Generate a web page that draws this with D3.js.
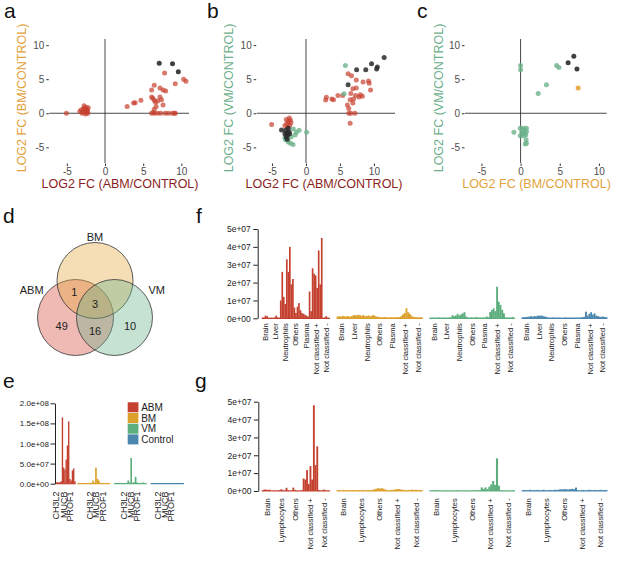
<!DOCTYPE html>
<html>
<head>
<meta charset="utf-8">
<script src="https://cdn.jsdelivr.net/npm/d3@7"></script>
<style>
  body { margin: 0; background: #fff; }
  svg { display: block; font-family: "Liberation Sans", Arial, sans-serif; }
</style>
</head>
<body>
<script>
// ---------- data ----------
// scatter points: [log2FC x, log2FC y]
var aRed = [[-5.06,0],[-3.3,0.3],[-3.1,0.5],[-2.9,0.2],[-2.8,0.7],[-2.75,1.1],[-2.6,0.4],[-2.5,0.9],[-2.45,0.1],
  [-2.35,0.6],[-2.3,0.3],[-2.2,0.8],[-2.55,-0.1],[-2.25,0.0],[-2.65,0.55],[-2.4,0.45],[-3.0,0.0],
  [2.9,1.0],[3.75,1.5],[3.95,1.55],[4.7,1.9],[6.1,3.4],[6.45,4.1],[6.1,2.4],[6.25,2.2],[6.45,1.9],[6.6,1.6],
  [6.45,0.6],[6.7,1.0],[7.2,3.7],[7.6,3.4],[7.95,3.25],[7.8,5.9],[7.2,2.4],[7.4,2.0],[6.9,1.8],[10.3,5.0],
  [10.6,4.7],[9.2,4.35],[6.1,0],[6.5,0],[6.9,0],[7.3,0],[7.9,0],[8.3,0],[8.8,0],[9.1,0],[9.2,0],[6.3,0.1],[7.6,1.2]];
var aBlack = [[7.1,7.35],[8.84,7.26],[9.6,6.1]];

var bRed = [[6.2,5.8],[6.7,5.5],[7.4,4.9],[8.4,4.6],[9.2,4.75],[9.3,4.4],[9.5,3.4],[6.9,3.6],[7.4,3.7],[6.6,2.9],
  [7.3,2.6],[7.8,2.4],[8.3,2.5],[6.5,2.0],[7.0,2.1],[6.1,1.2],[6.3,0.7],[6.6,0],[6.3,0],[7.2,0],[6.5,-1.47],
  [3.0,2.35],[2.9,1.95],[3.8,2.1],[4.05,2.0],[4.7,2.6],[5.4,2.6],[8.0,2.7],[6.9,1.5],
  [-5.05,-1.66],[-2.45,-0.7],[-2.9,-0.9],[-2.6,-1.2],[-2.3,-1.0],[-2.8,-1.5],[-2.4,-1.8],[-2.2,-1.4],[-2.7,-2.0],[-3.1,-1.8]];
var bGreen = [[5.8,7.0],[5.6,2.85],[-1.86,-2.3],[-1.4,-2.8],[-1.0,-2.5],[-1.6,-3.2],[0.1,-2.8],[-3.0,-3.9],
  [-2.6,-4.2],[-2.3,-4.4],[-1.9,-4.6],[-3.1,-3.6],[-2.2,-3.5]];
var bBlack = [[11.5,8.2],[9.65,7.26],[10.5,6.8],[10.4,6.5],[8.8,6.4],[7.45,6.4],[6.2,4.2],
  [-3.6,-2.45],[-3.0,-2.5],[-2.8,-2.9],[-2.7,-3.2],[-2.9,-3.5],[-2.6,-2.2],[-2.5,-2.7],[-2.75,-3.8],[-2.4,-3.0],[-3.1,-3.0]];

var cGreen = [[0,7.0],[0,6.4],[4.6,7.0],[4.9,6.7],[3.3,4.2],[2.25,2.9],[-0.85,-2.8],[-0.05,-2.2],[0.35,-2.2],
  [0.55,-2.4],[0.75,-2.2],[0.15,-2.8],[0.35,-3.0],[0.55,-2.9],[0.75,-2.7],[-0.05,-3.3],[0.35,-3.3],[0.7,-3.9],
  [0.75,-4.4],[0.6,-4.5],[0.65,-3.2],[0.2,-2.5]];
var cOrange = [[7.35,3.7]];
var cBlack = [[6.8,8.35],[6.07,7.4],[7.2,6.5]];

var scatterTicks = [-5, 0, 5, 10];

// venn counts
var vennSets = ["ABM", "BM", "VM"];
var vennRegions = [
  { sets: ["ABM"], count: 49 },
  { sets: ["BM"], count: 0 },
  { sets: ["VM"], count: 10 },
  { sets: ["ABM", "BM"], count: 1 },
  { sets: ["ABM", "VM"], count: 16 },
  { sets: ["BM", "VM"], count: 0 },
  { sets: ["ABM", "BM", "VM"], count: 3 }
];

// panel e: intensities (1e6) per protein, per group
var groups = ["ABM", "BM", "VM", "Control"];
var eABM  = [3,4,3,4,6,165,40,35,60,95,155,12,8,33,38,6];
var eBM   = [1,1,1,1,1.5,1,1,1,1,2,8,3,40,12,8,2,1,1.5,1,1,1,1];
var eVM   = [1,1,1.5,1,2,1,1,1.5,2,8,3,64,2,4,17,3,2,1,2,3,1,1];
var eCtrl = [1,0.5,1,0.8,1,0.5,0.7,1,1.2,0.8,1,0.6,0.9,1,0.8,0.6,1,2,0.8,0.7,1,0.6];
var eLabels = ["CH3L2", "MUCB", "PROF1"];
var eLabelIdx = [[0,6,11],[8,12,17],[6,11,15],[4,9,13]];
var eTicks = [0, 5e7, 1e8, 1.5e8, 2e8];

// panel f: intensities (1e6) along origin categories
var fCats = ["Brain", "Liver", "Neutrophils", "Others", "Plasma", "Not classified +", "Not classified -"];
var fABM = [0.3,0.5,1.5,1.2,0.3,0.2,0.3,0.2,0.5,1.5,0.5,0.3,10,26,12,8,33,26,40,19,22,6,3,6.5,8.5,4.5,3,2.5,2,1.5,
  1,15,4,28,25,24,17,38,19,45,0.2,0.5,1.2,0.3,0.2];
var fBM = [1.0,1.2,0.9,1.4,1.1,1.0,1.3,0.8,1.2,1.5,1.9,1.6,2.0,1.7,1.4,1.8,1.2,1.3,1.6,1.1,1.5,1.8,1.2,0.9,0.7,0.6,
  0.5,0.7,0.6,0.5,0.4,0.6,0.5,0.6,0.5,0.7,0.6,1.2,2.2,3.0,5.6,3.4,2.5,1.4,0.8,0.6,0.5,0.6,0.4,0.5];
var fVM = [0.3,0.3,0.4,0.3,0.3,0.5,0.3,0.3,0.4,0.3,0.3,0.4,0.5,1.8,1.2,1.5,2.5,1.6,2.2,2.8,3.4,1.0,0.4,0.3,0.5,0.3,
  0.4,0.8,0.3,0.4,0.3,0.5,0.4,1.0,0.6,3.5,4.7,5.6,4.0,17.7,9.3,7.5,4.7,2.8,0.5,0.3,0.4,0.3,0.8,0.3];
var fCtrl = [0.6,0.6,0.7,0.8,1.0,1.2,0.9,1.3,1.1,1.5,1.4,1.6,1.2,1.0,0.8,0.4,0.3,0.3,0.5,0.3,0.3,0.4,0.3,0.3,0.3,
  0.5,0.3,0.3,0.4,0.3,0.3,0.3,0.4,0.3,0.5,0.6,0.8,3.7,1.5,2.5,3.4,2.0,2.8,1.5,1.2,0.9,0.8,1.0,0.7,0.6];

// panel g
var gCats = ["Brain", "Lymphocytes", "Others", "Not classified +", "Not classified -"];
var gABM = [0.3,0.8,0.8,0.5,0.8,0.2,0.2,0.3,0.2,0.3,0.5,1.0,0.4,0.3,1.8,0.5,0.2,0.3,1.9,0.6,
  0.2,0.3,0.2,0.4,7.0,6.4,11.7,4.0,13.9,6.4,48,14.5,25,0.5,0.3,0.4,0.8,0.3,0.2,0.2];
var gBM = [0.4,0.5,0.3,0.6,0.4,0.5,0.3,0.4,0.5,0.4,0.3,0.5,0.4,0.6,0.3,0.4,0.5,0.3,0.6,0.8,
  1.2,1.5,1.4,1.6,1.3,0.8,0.5,0.4,0.6,0.5,0.9,1.0,1.1,0.9,0.7,0.5,0.4,0.6,0.5,0.8,0.6,0.7,0.5,0.6,0.4];
var gVM = [0.3,0.2,0.3,0.4,0.3,0.3,0.2,0.3,0.4,0.3,0.3,0.2,0.3,0.3,0.4,0.3,0.2,0.3,0.3,0.4,0.3,0.2,0.3,0.3,0.4,0.3,0.5,
  2.0,1.2,2.0,1.1,2.4,3.7,5.6,3.4,18.3,3.0,0.4,0.3,0.3,0.2,0.3,0.3,0.4,0.3];
var gCtrl = [0.4,0.6,0.3,0.5,0.7,0.3,0.5,0.4,0.6,0.3,0.5,0.7,0.4,0.3,0.6,0.5,0.4,0.7,0.5,
  0.8,1.0,0.9,1.1,1.0,0.8,1.1,1.2,1.0,1.9,0.4,0.3,0.5,0.6,0.3,0.4,0.7,0.5,0.3,0.6,0.4,0.5,0.7,0.4,0.5,0.6];
var fgTicks = [0, 1e7, 2e7, 3e7, 4e7, 5e7];

// ---------- style ----------
var colRed = "#C5412F", colOrange = "#DDA02A", colGreen = "#5DAE7D", colBlue = "#4A86AE";
var groupColor = d3.scaleOrdinal().domain(groups).range([colRed, colOrange, colGreen, colBlue]);
var font = "Liberation Sans, Arial, sans-serif";

var width = 617, height = 562;
var svg = d3.select("body").append("svg")
  .attr("width", width)
  .attr("height", height);

// R style exponent labels: 5e+07, 2.0e+08
function rExp(digits) {
  return function (v) {
    return v.toExponential(digits).replace(/e([+-])(\d)$/, "e$10$2");
  };
}

// ---------- scatter panels ----------
function scatter(opt) {
  var x = d3.scaleLinear().domain(opt.xDomain).range(opt.xRange);
  var y = d3.scaleLinear().domain([-7.3, 10.9]).range([163, 39]);
  var g = svg.append("g");

  g.append("line")
    .attr("x1", opt.xRange[0]).attr("x2", opt.xRange[1])
    .attr("y1", y(0)).attr("y2", y(0))
    .attr("stroke", "#333").attr("stroke-width", 0.9);
  g.append("line")
    .attr("x1", x(0)).attr("x2", x(0))
    .attr("y1", y.range()[0]).attr("y2", y.range()[1])
    .attr("stroke", "#333").attr("stroke-width", 0.9);

  opt.series.forEach(function (s) {
    g.append("g").selectAll("circle")
      .data(s.pts)
      .join("circle")
      .attr("cx", d => x(d[0]))
      .attr("cy", d => y(d[1]))
      .attr("r", 2.5)
      .attr("fill", s.color)
      .attr("fill-opacity", s.alpha);
  });

  var yAx = g.append("g")
    .attr("transform", "translate(" + (opt.xRange[0] - 0.5) + ",0)")
    .call(d3.axisLeft(y).tickValues(scatterTicks).tickFormat(d => String(d)).tickSize(2.5).tickPadding(2));
  var xAx = g.append("g")
    .attr("transform", "translate(0," + (y.range()[0] + 0.5) + ")")
    .call(d3.axisBottom(x).tickValues(scatterTicks).tickFormat(d => String(d)).tickSize(2.5).tickPadding(1.5));
  [yAx, xAx].forEach(function (ax) {
    ax.select(".domain").remove();
    ax.selectAll("line").attr("stroke", "#333");
    ax.selectAll("text").attr("fill", "#4D4D4D").attr("font-size", 10).attr("font-family", font);
  });

  g.append("text")
    .attr("x", opt.xTitleX).attr("y", 187.5)
    .attr("text-anchor", "middle")
    .attr("font-size", 12.5).attr("font-family", font)
    .attr("fill", opt.xTitleColor)
    .text(opt.xTitle);
  g.append("text")
    .attr("transform", "translate(" + opt.yTitleX + ",98) rotate(-90)")
    .attr("text-anchor", "middle")
    .attr("dy", "0.35em")
    .attr("font-size", 12.5).attr("font-family", font)
    .attr("fill", opt.yTitleColor)
    .text(opt.yTitle);
}

var ptRed = "#C8402F", ptGreen = "#6DB38B", ptBlack = "#2A2A2A", ptOrange = "#E5A33A";
var titleRed = "#8B1E22", titleOrange = "#E3A23B", titleGreen = "#6DAF8C";

scatter({
  xDomain: [-7.3, 11.0], xRange: [49.3, 189],
  series: [{ pts: aRed, color: ptRed, alpha: 0.7 }, { pts: aBlack, color: ptBlack, alpha: 0.9 }],
  xTitle: "LOG2 FC (ABM/CONTROL)", xTitleColor: titleRed, xTitleX: 120,
  yTitle: "LOG2 FC (BM/CONTROL)", yTitleColor: titleOrange, yTitleX: 21.7
});
scatter({
  xDomain: [-7.25, 13.1], xRange: [256.7, 395],
  series: [{ pts: bRed, color: ptRed, alpha: 0.7 }, { pts: bGreen, color: ptGreen, alpha: 0.8 },
           { pts: bBlack, color: ptBlack, alpha: 0.85 }],
  xTitle: "LOG2 FC (ABM/CONTROL)", xTitleColor: titleRed, xTitleX: 324,
  yTitle: "LOG2 FC (VM/CONTROL)", yTitleColor: titleGreen, yTitleX: 228.3
});
scatter({
  xDomain: [-7.1, 11.0], xRange: [465, 606.7],
  series: [{ pts: cGreen, color: ptGreen, alpha: 0.8 }, { pts: cOrange, color: ptOrange, alpha: 0.9 },
           { pts: cBlack, color: ptBlack, alpha: 0.9 }],
  xTitle: "LOG2 FC (BM/CONTROL)", xTitleColor: titleOrange, xTitleX: 536.5,
  yTitle: "LOG2 FC (VM/CONTROL)", yTitleColor: titleGreen, yTitleX: 438.3
});

// ---------- venn (panel d) ----------
var vennLayout = {
  ABM: { cx: 75.5, cy: 317.5, color: "#D4473A", lx: 31.7, ly: 290 },
  BM:  { cx: 95,   cy: 280.5, color: "#E6A93C", lx: 95,   ly: 236.7 },
  VM:  { cx: 114.5, cy: 317.5, color: "#6AB38A", lx: 156.7, ly: 290 }
};
var vennR = 38;
var vg = svg.append("g");
vg.selectAll("circle")
  .data(vennSets)
  .join("circle")
  .attr("cx", d => vennLayout[d].cx)
  .attr("cy", d => vennLayout[d].cy)
  .attr("r", vennR)
  .attr("fill", d => vennLayout[d].color)
  .attr("fill-opacity", 0.38)
  .attr("stroke", "#333")
  .attr("stroke-width", 0.8);
vg.selectAll("text.set")
  .data(vennSets)
  .join("text")
  .attr("class", "set")
  .attr("x", d => vennLayout[d].lx)
  .attr("y", d => vennLayout[d].ly)
  .attr("dy", "0.35em")
  .attr("text-anchor", "middle")
  .attr("font-size", 11).attr("font-family", font).attr("fill", "#222")
  .text(d => d);

// place region labels relative to circle centres
function regionPos(sets) {
  var key = sets.join("&");
  var A = vennLayout.ABM, B = vennLayout.BM, V = vennLayout.VM;
  if (key === "ABM") return [A.cx - 13.8, A.cy + 8.8];
  if (key === "BM") return [B.cx, B.cy - 18];
  if (key === "VM") return [V.cx + 15.5, V.cy + 8.8];
  if (key === "ABM&BM") return [(A.cx + B.cx) / 2 - 11, (A.cy + B.cy) / 2 - 7.3];
  if (key === "ABM&VM") return [(A.cx + V.cx) / 2, A.cy + 13.5];
  if (key === "BM&VM") return [(B.cx + V.cx) / 2 + 11, (B.cy + V.cy) / 2 - 7.3];
  return [B.cx, (A.cy + B.cy + V.cy) / 3 - 1.5];
}
vg.selectAll("text.count")
  .data(vennRegions.filter(d => d.count > 0))
  .join("text")
  .attr("class", "count")
  .attr("x", d => regionPos(d.sets)[0])
  .attr("y", d => regionPos(d.sets)[1])
  .attr("dy", "0.35em")
  .attr("text-anchor", "middle")
  .attr("font-size", 11).attr("font-family", font).attr("fill", "#222")
  .text(d => d.count);

// ---------- bar panels (e, f, g) ----------
function barPanel(opt) {
  var y = d3.scaleLinear().domain([0, opt.yMax]).range([opt.y0, opt.yTop]);
  var g = svg.append("g");

  opt.facets.forEach(function (f, k) {
    var x = d3.scaleBand().domain(d3.range(f.values.length)).range(f.range).padding(0);
    var color = groupColor(groups[k]);
    g.append("line")
      .attr("x1", f.range[0]).attr("x2", f.range[1])
      .attr("y1", opt.y0).attr("y2", opt.y0)
      .attr("stroke", color).attr("stroke-width", 1.2);
    g.append("g").selectAll("rect")
      .data(f.values)
      .join("rect")
      .attr("x", (d, i) => x(i))
      .attr("width", x.bandwidth() + 0.15)
      .attr("y", d => y(d * 1e6))
      .attr("height", d => opt.y0 - y(d * 1e6))
      .attr("fill", color);

    var labels;
    if (opt.categories) {
      var p = d3.scalePoint().domain(opt.categories).range(f.range).padding(0.37);
      labels = opt.categories.map(c => ({ text: c, x: p(c) }));
    } else {
      labels = opt.labelNames.map((c, j) => ({ text: c, x: x(opt.labelIdx[k][j]) + x.bandwidth() / 2 }));
    }
    g.append("g").selectAll("text")
      .data(labels)
      .join("text")
      .attr("transform", d => "translate(" + d.x + "," + opt.labelTop + ") rotate(-90)")
      .attr("text-anchor", "end")
      .attr("dy", "0.35em")
      .attr("font-size", opt.labelSize).attr("font-family", font).attr("fill", "#222")
      .text(d => d.text);
  });

  var ax = g.append("g")
    .attr("transform", "translate(" + opt.axisX + ",0)")
    .call(d3.axisLeft(y).tickValues(opt.ticks).tickFormat(opt.fmt).tickSize(opt.tickSize).tickSizeOuter(0).tickPadding(opt.tickPad));
  ax.select(".domain").attr("stroke", "#222");
  ax.selectAll("line").attr("stroke", "#222");
  ax.selectAll("text").attr("fill", "#222").attr("font-size", opt.tickFont).attr("font-family", font);
}

// panel e
barPanel({
  yMax: 2e8, y0: 483.7, yTop: 403.3, axisX: 55, ticks: eTicks, fmt: rExp(1),
  tickSize: 4.5, tickPad: 1.5, tickFont: 8,
  facets: [
    { values: eABM, range: [55.5, 75.5] },
    { values: eBM, range: [77.3, 110] },
    { values: eVM, range: [114, 146.7] },
    { values: eCtrl, range: [150.7, 184] }
  ],
  labelNames: eLabels, labelIdx: eLabelIdx, labelTop: 491.5, labelSize: 9
});

// legend of panel e
var leg = svg.append("g").attr("transform", "translate(127.7,402.3)");
leg.selectAll("rect")
  .data(groups)
  .join("rect")
  .attr("x", 0).attr("y", (d, i) => i * 10.7)
  .attr("width", 10.7).attr("height", 10)
  .attr("fill", d => groupColor(d));
leg.selectAll("text")
  .data(groups)
  .join("text")
  .attr("x", 13.5).attr("y", (d, i) => i * 10.7 + 5)
  .attr("dy", "0.36em")
  .attr("font-size", 10).attr("font-family", font).attr("fill", "#222")
  .text(d => d);

var fgFacets = [[261.7, 330], [336.7, 422.7], [429.3, 515], [521.7, 607.3]];

// panel f
barPanel({
  yMax: 5e7, y0: 318.3, yTop: 229, axisX: 257.7, ticks: fgTicks, fmt: rExp(0),
  tickSize: 4.4, tickPad: 2.5, tickFont: 8.5,
  facets: [fABM, fBM, fVM, fCtrl].map((v, i) => ({ values: v, range: fgFacets[i] })),
  categories: fCats, labelTop: 323.3, labelSize: 7.5
});

// panel g
barPanel({
  yMax: 5e7, y0: 491, yTop: 401.7, axisX: 258.3, ticks: fgTicks, fmt: rExp(0),
  tickSize: 4.4, tickPad: 2.5, tickFont: 8.5,
  facets: [gABM, gBM, gVM, gCtrl].map((v, i) => ({ values: v, range: fgFacets[i] })),
  categories: gCats, labelTop: 498.3, labelSize: 7.5
});

// ---------- panel letters ----------
var letters = [
  { t: "a", x: 4, y: 18 }, { t: "b", x: 207, y: 18 }, { t: "c", x: 417, y: 18 },
  { t: "d", x: 3, y: 223 }, { t: "f", x: 196, y: 223 },
  { t: "e", x: 3, y: 388 }, { t: "g", x: 195, y: 388 }
];
svg.append("g").selectAll("text")
  .data(letters)
  .join("text")
  .attr("x", d => d.x).attr("y", d => d.y)
  .attr("font-size", 21).attr("font-family", font).attr("fill", "#111")
  .text(d => d.t);
</script>
</body>
</html>
